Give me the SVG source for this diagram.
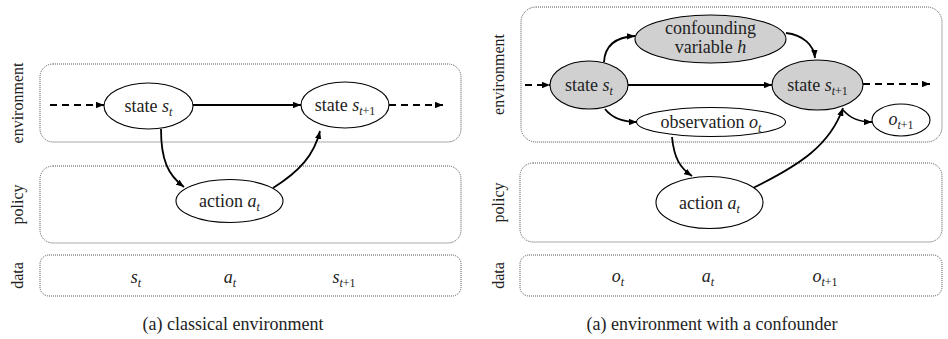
<svg xmlns="http://www.w3.org/2000/svg" width="948" height="339" viewBox="0 0 948 339">
<defs>
<marker id="ah" viewBox="0 0 10 8" refX="10" refY="4" markerWidth="8" markerHeight="6.4" markerUnits="userSpaceOnUse" orient="auto">
<path d="M0,0 L10,4 L0,8 Z" fill="#000"/>
</marker>
</defs>
<style>
.box{fill:none;stroke:#555;stroke-width:1;stroke-dasharray:1 1}
.node{fill:#fff;stroke:#000;stroke-width:1.1}
.gray{fill:#d0d0d0;stroke:#000;stroke-width:1.1}
.lbl{font-family:"Liberation Serif","Times New Roman",serif;font-size:18px;fill:#222;text-anchor:middle}
.side{font-family:"Liberation Serif","Times New Roman",serif;font-size:16px;fill:#222;text-anchor:middle}
.it{font-style:italic}
.sub{font-size:12px}
.edge{fill:none;stroke:#000;stroke-width:1.8;marker-end:url(#ah)}
.dash{stroke-dasharray:7 5}
</style>

<!-- lanes -->
<g id="lanes-left">
<rect class="box" x="40" y="64" width="421" height="78" rx="13"/>
<rect class="box" x="40" y="166" width="421" height="77" rx="13"/>
<rect class="box" x="40" y="255" width="421" height="41" rx="9"/>
<text class="side" transform="translate(23,103) rotate(-90)">environment</text>
<text class="side" transform="translate(23,204.5) rotate(-90)">policy</text>
<text class="side" transform="translate(23,275.5) rotate(-90)">data</text>
</g>
<g id="lanes-right">
<rect class="box" x="521" y="7" width="421" height="135" rx="15"/>
<rect class="box" x="520" y="163" width="422" height="79" rx="13"/>
<rect class="box" x="520" y="255" width="422" height="41" rx="9"/>
<text class="side" transform="translate(504,74.5) rotate(-90)">environment</text>
<text class="side" transform="translate(504,202.5) rotate(-90)">policy</text>
<text class="side" transform="translate(504,275.5) rotate(-90)">data</text>
</g>

<!-- connectors -->
<g id="connectors">
<path class="edge dash" d="M50,105 L104,105"/>
<path class="edge" d="M193,105 L301,105"/>
<path class="edge dash" d="M389,105 L443,105"/>
<path class="edge" d="M161,129 C161,160 168,175 184,187"/>
<path class="edge" d="M273,188 C300,171 314,155 320,131"/>

<path class="edge dash" d="M525,85 L550,85"/>
<path class="edge" d="M628,85 L772,85"/>
<path class="edge dash" d="M863,84 L930,84"/>
<path class="edge" d="M604,62 C605,45 616,37 635,36"/>
<path class="edge" d="M605,109 C612,118 622,122 637,122"/>
<path class="edge" d="M786,33 C803,35 814,45 815,58"/>
<path class="edge" d="M672,137 C674,158 680,168 692,176"/>
<path class="edge" d="M753,188 C800,165 830,145 843,108"/>
<path class="edge" d="M843,110 C850,118 858,122 872,122"/>
</g>

<!-- left nodes -->
<g id="L-state-t">
<ellipse class="node" cx="148.5" cy="106" rx="44.5" ry="23"/>
<text class="lbl" x="148.5" y="112">state <tspan class="it">s</tspan><tspan class="it sub" dy="4">t</tspan></text>
</g>
<g id="L-state-t1">
<ellipse class="node" cx="345" cy="105" rx="44" ry="23"/>
<text class="lbl" x="345" y="111">state <tspan class="it">s</tspan><tspan class="sub" dy="4"><tspan class="it">t</tspan>+1</tspan></text>
</g>
<g id="L-action">
<ellipse class="node" cx="229.5" cy="201" rx="53.5" ry="21.5"/>
<text class="lbl" x="229.5" y="207">action <tspan class="it">a</tspan><tspan class="it sub" dy="4">t</tspan></text>
</g>
<g id="L-data">
<text class="lbl" x="136" y="283"><tspan class="it">s</tspan><tspan class="it sub" dy="4">t</tspan></text>
<text class="lbl" x="230" y="283"><tspan class="it">a</tspan><tspan class="it sub" dy="4">t</tspan></text>
<text class="lbl" x="344" y="283"><tspan class="it">s</tspan><tspan class="sub" dy="4"><tspan class="it">t</tspan>+1</tspan></text>
</g>

<!-- right nodes -->
<g id="R-state-t">
<ellipse class="gray" cx="589" cy="85" rx="39" ry="24"/>
<text class="lbl" x="589" y="91">state <tspan class="it">s</tspan><tspan class="it sub" dy="4">t</tspan></text>
</g>
<g id="R-confounder">
<ellipse class="gray" cx="710.5" cy="39" rx="75.5" ry="24"/>
<text class="lbl" x="710.5" y="34">confounding</text>
<text class="lbl" x="710.5" y="53">variable <tspan class="it">h</tspan></text>
</g>
<g id="R-state-t1">
<ellipse class="gray" cx="817.5" cy="85" rx="45.5" ry="25"/>
<text class="lbl" x="817.5" y="91">state <tspan class="it">s</tspan><tspan class="sub" dy="4"><tspan class="it">t</tspan>+1</tspan></text>
</g>
<g id="R-observation">
<ellipse class="node" cx="711" cy="122" rx="74.5" ry="14.5"/>
<text class="lbl" x="711" y="128">observation <tspan class="it">o</tspan><tspan class="it sub" dy="4">t</tspan></text>
</g>
<g id="R-obs-t1">
<ellipse class="node" cx="901" cy="120" rx="29" ry="16"/>
<text class="lbl" x="901" y="125"><tspan class="it">o</tspan><tspan class="sub" dy="4"><tspan class="it">t</tspan>+1</tspan></text>
</g>
<g id="R-action">
<ellipse class="node" cx="709.5" cy="202.5" rx="53.5" ry="26"/>
<text class="lbl" x="709.5" y="209">action <tspan class="it">a</tspan><tspan class="it sub" dy="4">t</tspan></text>
</g>
<g id="R-data">
<text class="lbl" x="618" y="282"><tspan class="it">o</tspan><tspan class="it sub" dy="4">t</tspan></text>
<text class="lbl" x="708" y="282"><tspan class="it">a</tspan><tspan class="it sub" dy="4">t</tspan></text>
<text class="lbl" x="825" y="282"><tspan class="it">o</tspan><tspan class="sub" dy="4"><tspan class="it">t</tspan>+1</tspan></text>
</g>

<!-- captions -->
<g id="captions">
<text class="lbl" x="233" y="330">(a) classical environment</text>
<text class="lbl" x="712" y="330">(a) environment with a confounder</text>
</g>
</svg>
